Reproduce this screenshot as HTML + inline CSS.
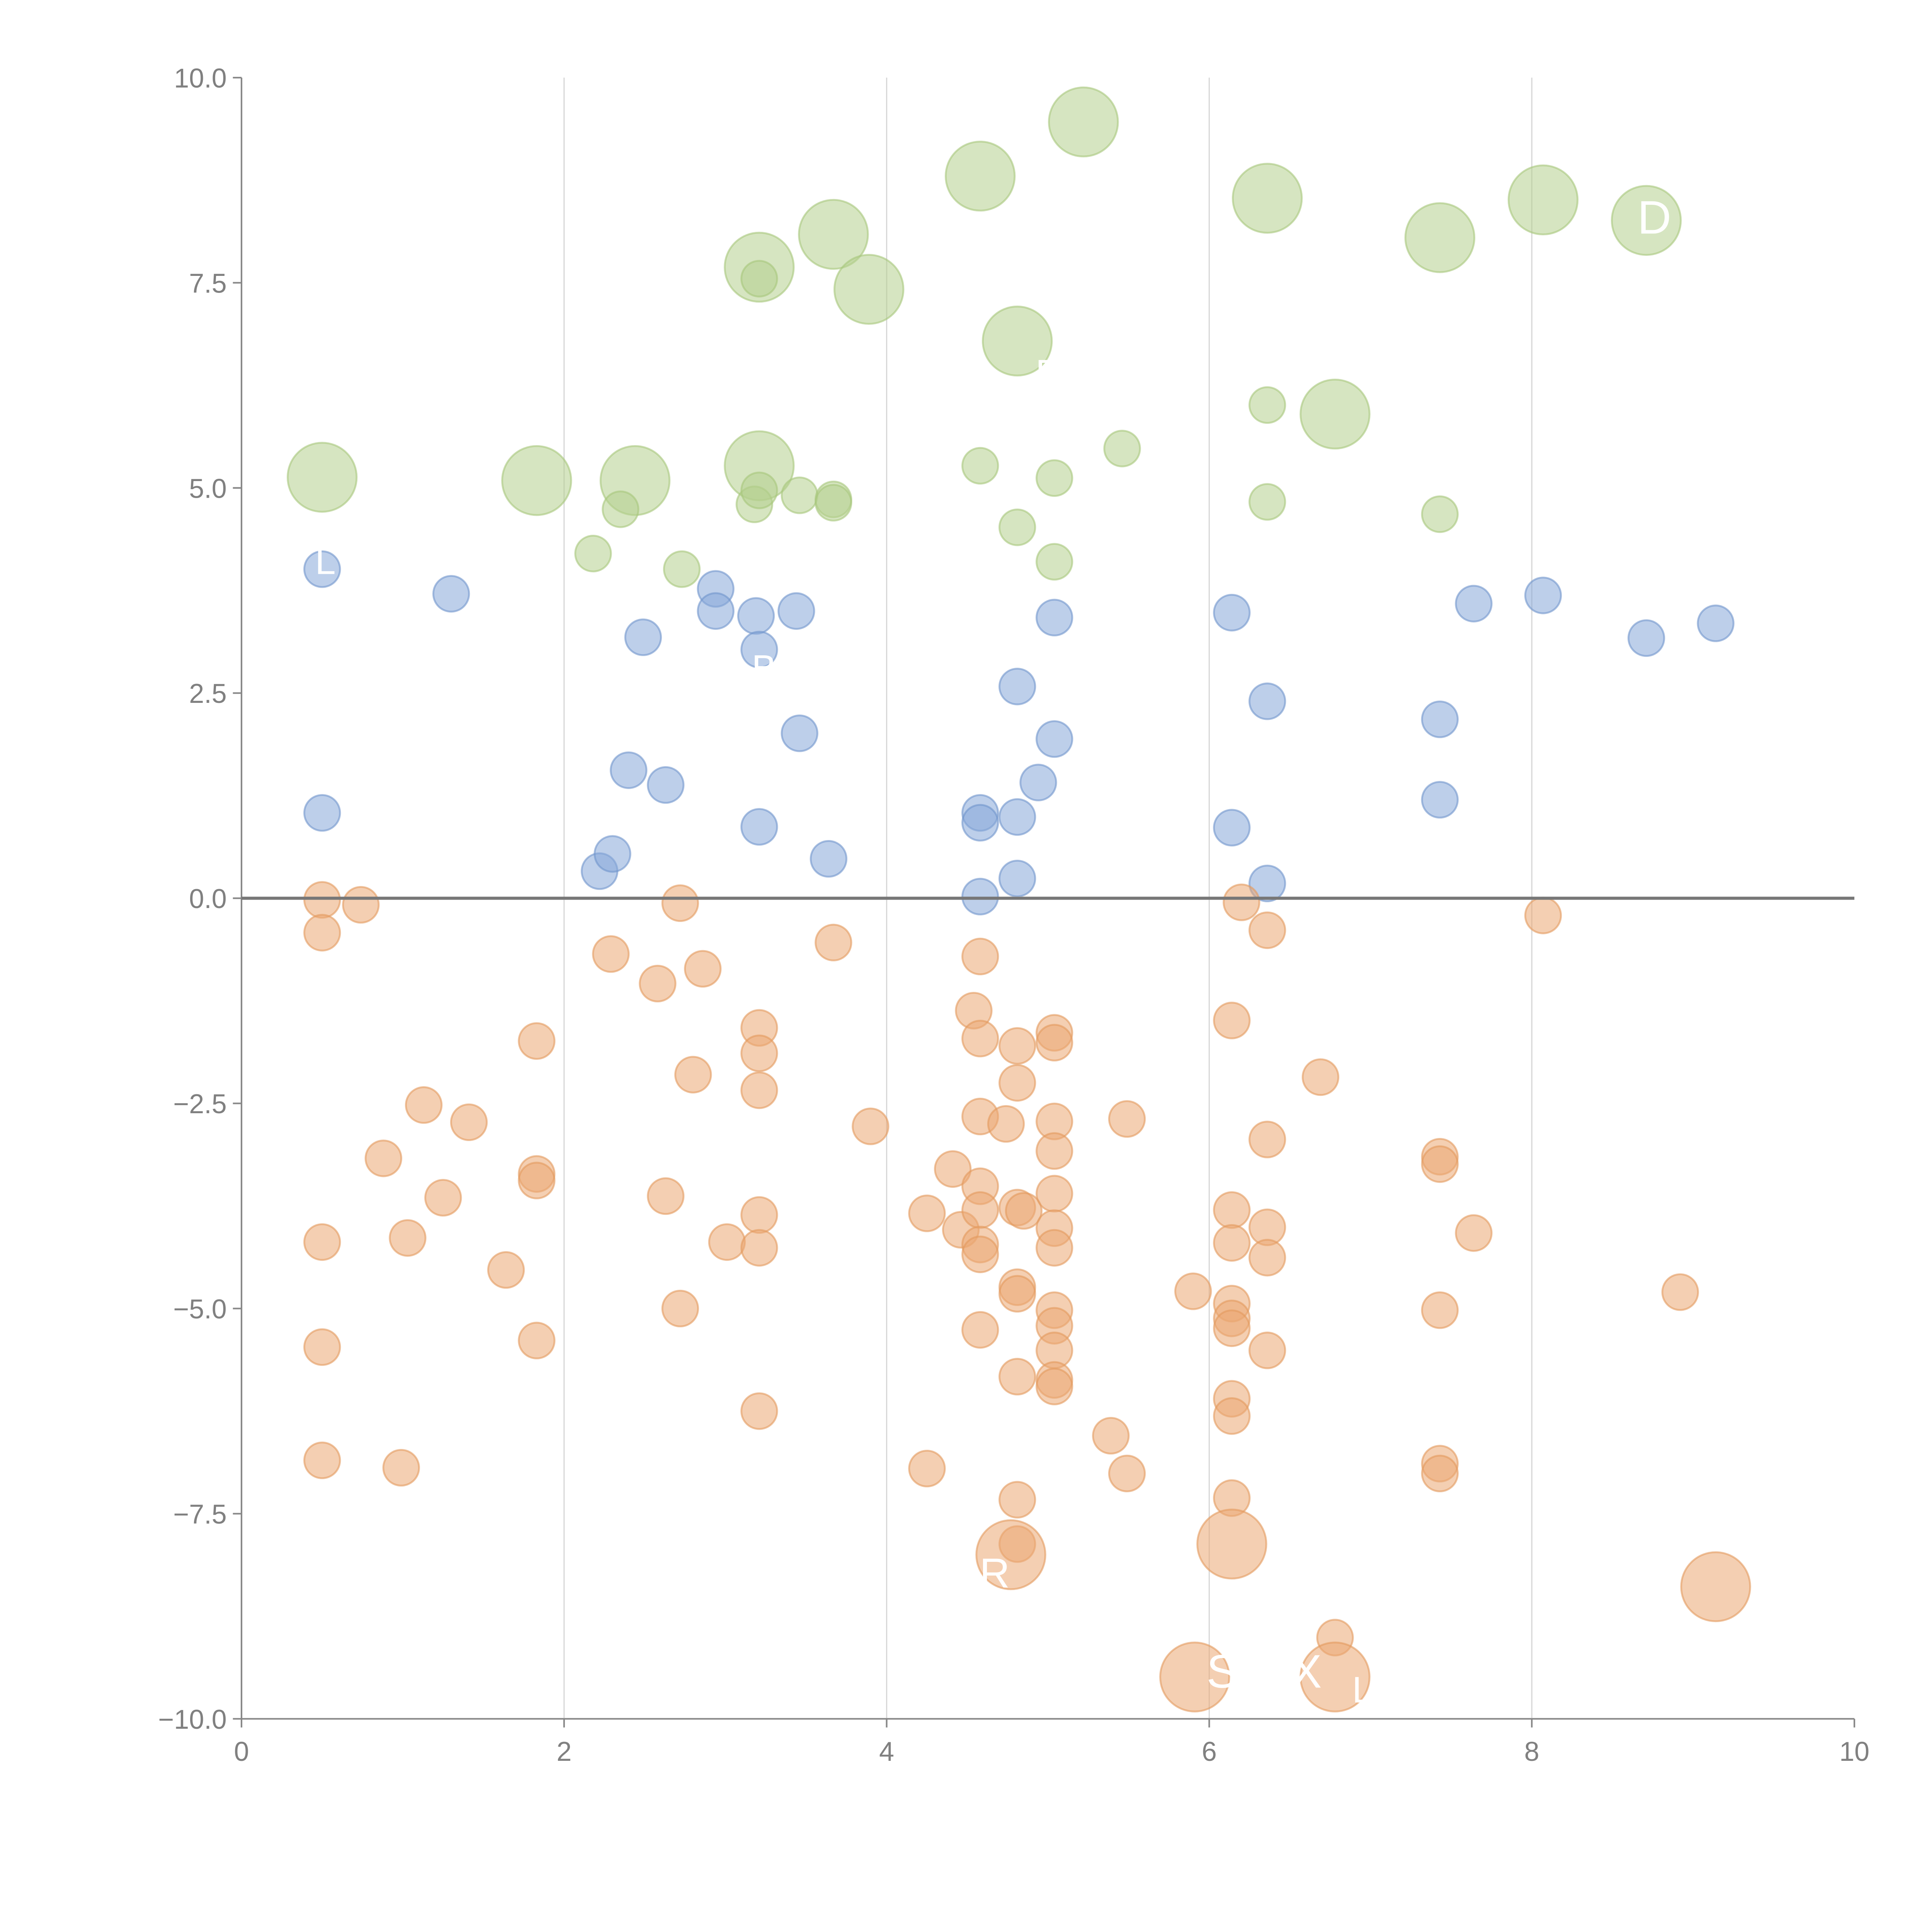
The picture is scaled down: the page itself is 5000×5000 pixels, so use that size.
<!DOCTYPE html>
<html><head><meta charset="utf-8"><style>
html,body{margin:0;padding:0;background:#fff;}
svg{display:block;}
text{font-family:"Liberation Sans",Arial,sans-serif;}
</style></head><body>
<svg id="chart" width="5000" height="5000" viewBox="0 0 1568 1568" xmlns="http://www.w3.org/2000/svg">
<g id="grid"></g>
<g id="marks"></g>
<g id="axes"></g>
<g id="labels"></g>
</svg>
<script>
const xTicks=[0,2,4,6,8,10];
const xTickLabels=["0","2","4","6","8","10"];
const yTicks=[10,7.5,5,2.5,0,-2.5,-5,-7.5,-10];
const yTickLabels=["10.0","7.5","5.0","2.5","0.0","\u22122.5","\u22125.0","\u22127.5","\u221210.0"];
const greenX=[0.5,1.83,2.44,3.21,3.21,3.67,3.89,4.58,4.81,5.22,6.36,7.43,8.07,8.71,6.78,3.21,2.18,2.35,2.73,3.18,3.21,3.46,3.67,3.67,4.58,4.81,5.04,5.04,5.46,6.36,6.36,7.43];
const greenY=[5.13,5.09,5.09,5.27,7.69,8.09,7.42,8.80,6.79,9.46,8.53,8.05,8.51,8.26,5.90,7.55,4.20,4.74,4.01,4.80,4.97,4.91,4.86,4.82,5.27,4.52,5.12,4.10,5.48,6.01,4.83,4.68];
const greenSize=[2,2,2,2,2,2,2,2,2,2,2,2,2,2,2,1,1,1,1,1,1,1,1,1,1,1,1,1,1,1,1,1];
const blueX=[0.5,0.5,1.30,2.22,2.30,2.40,2.49,2.63,2.94,2.94,3.19,3.21,3.21,3.44,3.46,3.64,4.58,4.58,4.58,4.81,4.81,4.81,4.94,5.04,5.04,6.14,6.14,6.36,6.36,7.43,7.43,7.64,8.07,8.71,9.14];
const blueY=[4.01,1.04,3.71,0.33,0.54,1.56,3.18,1.38,3.77,3.50,3.44,3.03,0.87,3.50,2.01,0.48,1.04,0.92,0.02,2.58,0.99,0.24,1.41,3.42,1.94,3.48,0.86,2.40,0.18,2.18,1.20,3.59,3.69,3.17,3.35];
const orangeX=[0.5,0.5,0.74,0.5,0.5,0.5,0.88,0.99,1.03,1.13,1.25,1.41,1.64,1.83,1.83,1.83,1.83,2.29,2.58,2.63,2.72,2.72,2.80,2.86,3.01,3.21,3.21,3.21,3.21,3.21,3.21,3.67,3.90,4.25,4.25,4.41,4.46,4.54,4.58,4.58,4.58,4.58,4.58,4.58,4.58,4.58,4.74,4.81,4.81,4.81,4.85,4.81,4.81,4.81,4.81,4.81,5.04,5.04,5.04,5.04,5.04,5.04,5.04,5.04,5.04,5.04,5.04,5.04,5.39,5.49,5.49,5.90,6.14,6.14,6.14,6.14,6.14,6.14,6.14,6.14,6.14,6.20,6.36,6.36,6.36,6.36,6.36,6.69,6.78,7.43,7.43,7.43,7.43,7.43,7.64,8.07,8.92,4.77,6.14,5.91,6.78,9.14];
const orangeY=[-0.02,-0.42,-0.08,-4.19,-5.47,-6.85,-3.17,-6.94,-4.14,-2.52,-3.65,-2.73,-4.53,-1.74,-3.36,-3.44,-5.39,-0.68,-1.04,-3.63,-0.06,-5.00,-2.15,-0.86,-4.19,-1.58,-1.89,-2.34,-3.86,-4.26,-6.25,-0.54,-2.78,-3.84,-6.95,-3.30,-4.04,-1.37,-0.71,-1.71,-2.66,-3.51,-3.80,-4.22,-4.34,-5.26,-2.75,-1.80,-2.25,-3.77,-3.81,-4.74,-4.82,-5.83,-7.33,-7.87,-1.64,-1.76,-2.72,-3.08,-3.60,-4.02,-4.26,-5.02,-5.21,-5.51,-5.87,-5.95,-6.55,-2.69,-7.01,-4.79,-1.49,-3.80,-4.20,-4.94,-5.12,-5.24,-6.10,-6.31,-7.31,-0.05,-0.39,-2.94,-4.01,-4.38,-5.51,-2.18,-9.01,-3.15,-3.24,-5.02,-6.89,-7.01,-4.08,-0.21,-4.80,-8.00,-7.87,-9.49,-9.49,-8.39];
const orangeSize=orangeX.map((_,i)=>i>=orangeX.length-5?2:1);
const labelText=["D","S","MX","L","R","B","E","L"];
const labelX=[8.76,6.08,6.48,6.95,4.67,3.24,5.0,0.52];
const labelY=[8.10,-9.62,-9.62,-9.80,-8.40,2.65,6.25,3.95];
const labelSize=[38,38,38,30,34,30,30,30];

const X0=196,X1=1505,Y0=1395,Y1=63;
const sx=v=>X0+(v-0)/10*(X1-X0);
const sy=v=>Y0-(v+10)/20*(Y0-Y1);
const NS="http://www.w3.org/2000/svg";
function mk(tag,attrs,parent){const e=document.createElementNS(NS,tag);for(const k in attrs)e.setAttribute(k,attrs[k]);parent.appendChild(e);return e;}
const grid=document.getElementById('grid'),marks=document.getElementById('marks'),axes=document.getElementById('axes'),labels=document.getElementById('labels');
xTicks.forEach(t=>{if(t>0&&t<10){const l=mk('line',{x1:sx(t),x2:sx(t),y1:Y1,y2:Y0,stroke:'#d8d8d8','stroke-width':1},grid);

}});
function series(xs,ys,sz,fill,stroke,name){xs.forEach((x,i)=>{const r=sz[i]===2?28:14.5;
const c=mk('circle',{cx:sx(x),cy:sy(ys[i]),r:r,fill:fill,'fill-opacity':0.55,stroke:stroke,'stroke-opacity':0.6,'stroke-width':1.5},marks);

});}
series(greenX,greenY,greenSize,'#b5d08e','#a6c77c','green-point');
series(blueX,blueY,blueX.map(()=>1),'#86a8d8','#6f95cc','blue-point');
series(orangeX,orangeY,orangeSize,'#eba873','#e39a5e','orange-point');
let a=mk('line',{x1:X0,x2:X0,y1:Y1,y2:Y0,stroke:'#888','stroke-width':1.3},axes);


a=mk('line',{x1:X0,x2:X1,y1:Y0,y2:Y0,stroke:'#888','stroke-width':1.3},axes);


a=mk('line',{x1:X0,x2:X1,y1:sy(0),y2:sy(0),stroke:'#777','stroke-width':2.5},axes);


xTicks.forEach((t,i)=>{const l=mk('line',{x1:sx(t),x2:sx(t),y1:Y0,y2:Y0+7,stroke:'#888','stroke-width':1.3},axes);


const tx=mk('text',{x:sx(t),y:Y0+34,'text-anchor':'middle','font-size':22,fill:'#808080'},axes);tx.textContent=xTickLabels[i];

});
yTicks.forEach((t,i)=>{const l=mk('line',{x1:X0-7,x2:X0,y1:sy(t),y2:sy(t),stroke:'#888','stroke-width':1.3},axes);


const tx=mk('text',{x:X0-12,y:sy(t)+8,'text-anchor':'end','font-size':22,fill:'#808080'},axes);tx.textContent=yTickLabels[i];

});
labelText.forEach((s,i)=>{const tx=mk('text',{x:sx(labelX[i]),y:sy(labelY[i]),'text-anchor':'middle','font-size':labelSize[i],fill:'#fff'},labels);tx.textContent=s;

});
</script>
</body></html>
